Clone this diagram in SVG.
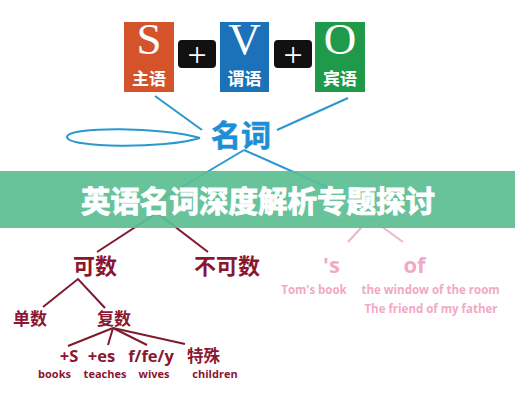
<svg xmlns="http://www.w3.org/2000/svg" width="515" height="400" viewBox="0 0 515 400">
<style>
.cn{font-family:"Noto Sans CJK SC","Noto Sans",sans-serif;font-weight:bold}
.en{font-family:"Open Sans","DejaVu Sans",sans-serif;font-weight:bold}
.big{font-family:"Liberation Serif",serif;font-size:45px;fill:#fff;text-anchor:middle}
.lab{font-size:17px;fill:#fff;text-anchor:middle}
.plus{font-family:"Liberation Serif",serif;font-size:34px;fill:#fff;text-anchor:middle}
.red{fill:#8a1630}
.pink{fill:#f2a9c4}
.bl{stroke:#2a98cf;stroke-width:2;fill:none}
.rl{stroke:#7e1a2e;stroke-width:2;fill:none}
.pl{stroke:#f0b3c8;stroke-width:2;fill:none}
</style>
<rect width="515" height="400" fill="#fff"/>
<g id="connectors">
<line class="bl" x1="155" y1="96" x2="202" y2="130"/>
<line class="bl" x1="348" y1="98" x2="277" y2="130"/>
<path class="bl" d="M200 138 C165 127 67 126 67 137 C67 148 165 149 200 138"/>
<line class="bl" x1="244" y1="150" x2="160" y2="200"/>
<line class="bl" x1="244" y1="150" x2="345" y2="195"/>
<polyline class="rl" points="97,252 157,213 208,252"/>
<polyline class="rl" points="43,307 78,279 105,308"/>
<line class="rl" x1="113" y1="328" x2="68" y2="346"/>
<line class="rl" x1="113" y1="328" x2="108" y2="345"/>
<line class="rl" x1="113" y1="328" x2="147" y2="345"/>
<line class="rl" x1="113" y1="328" x2="185" y2="344"/>
<polyline class="pl" points="348,242 370,218 403,242"/>
</g>
<g id="box-s">
<rect x="124" y="22" width="50" height="70" fill="#d4532a"/>
<text class="big" x="149" y="54">S</text>
<text class="cn lab" x="149" y="85">主语</text>
</g>
<g id="plus-1">
<rect x="178" y="40" width="38" height="28" rx="4" fill="#111"/>
<text class="plus" x="197" y="66">+</text>
</g>
<g id="box-v">
<rect x="220" y="22" width="49" height="70" fill="#1b72b8"/>
<text class="big" x="244.5" y="54">V</text>
<text class="cn lab" x="244.5" y="85">谓语</text>
</g>
<g id="plus-2">
<rect x="274" y="40" width="38" height="28" rx="4" fill="#111"/>
<text class="plus" x="293" y="66">+</text>
</g>
<g id="box-o">
<rect x="315" y="22" width="50" height="70" fill="#1f9a4b"/>
<text class="big" x="340" y="54">O</text>
<text class="cn lab" x="340" y="85">宾语</text>
</g>
<g id="noun">
<text class="cn" x="241" y="146" font-size="30" fill="#1e8fd6" stroke="#1e8fd6" stroke-width="0.6" text-anchor="middle">名词</text>
</g>
<g id="countable">
<text class="cn red" x="95" y="274" font-size="22" text-anchor="middle">可数</text>
</g>
<g id="uncountable">
<text class="cn red" x="227" y="274" font-size="22" text-anchor="middle">不可数</text>
</g>
<g id="singular">
<text class="cn red" x="30" y="325" font-size="17" text-anchor="middle">单数</text>
</g>
<g id="plural">
<text class="cn red" x="114" y="325" font-size="17" text-anchor="middle">复数</text>
</g>
<g id="plural-rules">
<text class="en red" x="69" y="362" font-size="16.5" text-anchor="middle">+S</text>
<text class="en red" x="101.5" y="362" font-size="16.5" text-anchor="middle">+es</text>
<text class="en red" x="151" y="362" font-size="16.5" text-anchor="middle">f/fe/y</text>
<text class="cn red" x="203.5" y="362" font-size="16.5" text-anchor="middle">特殊</text>
<text class="en red" x="54.5" y="378" font-size="11" text-anchor="middle">books</text>
<text class="en red" x="105" y="378" font-size="11" text-anchor="middle">teaches</text>
<text class="en red" x="154" y="378" font-size="11" text-anchor="middle">wives</text>
<text class="en red" x="215" y="378" font-size="11" text-anchor="middle">children</text>
</g>
<g id="possessive-s">
<text class="en pink" x="331.5" y="273" font-size="22" text-anchor="middle">'s</text>
<text class="en pink" x="314" y="294" font-size="11.5" text-anchor="middle">Tom's book</text>
</g>
<g id="possessive-of">
<text class="en pink" x="414.5" y="273" font-size="22" text-anchor="middle">of</text>
<text class="en pink" x="430.5" y="294" font-size="11.5" text-anchor="middle">the window of the room</text>
<text class="en pink" x="431" y="313" font-size="11.5" text-anchor="middle">The friend of my father</text>
</g>
<g id="banner">
<rect x="0" y="171" width="515" height="57" fill="#5dbe93" fill-opacity="0.93"/>
<text class="cn" x="258" y="212" font-size="29.5" fill="#fff" stroke="#fff" stroke-width="1" text-anchor="middle">英语名词深度解析专题探讨</text>
</g>
</svg>
